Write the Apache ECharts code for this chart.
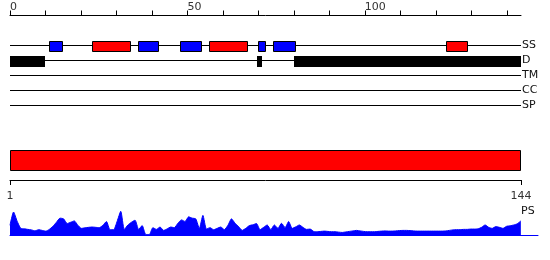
<!DOCTYPE html>
<html>
<head>
<meta charset="utf-8">
<script src="https://cdn.jsdelivr.net/npm/echarts@6/dist/echarts.min.js"></script>
<style>html,body{margin:0;padding:0;background:#fff;}#c{width:550px;height:260px;}</style>
</head>
<body>
<div id="c"></div>
<script>
// ---- data ----
const seqLength = 144;
const trackNames = ['SS', 'D', 'TM', 'CC', 'SP'];
const ssHelix = [[23, 34], [56, 67], [123, 129]];          // red boxes on SS
const ssStrand = [[11, 15], [36, 42], [48, 54], [70, 72], [74, 80.5]]; // blue boxes on SS
const disorder = [[0, 10], [69.5, 71], [80, 144]];          // black bars on D
const domains = [[1, 144]];                                 // red domain bar
const topTickValues = [0, 10, 20, 30, 40, 50, 60, 70, 80, 90, 100, 110, 120, 130, 140];
const topLabelValues = [0, 50, 100];
const bottomTickValues = [1, 144];
const psValues = [
  10, 23, 14, 7, 6.5, 6, 5.5, 4.5, 5.7, 5,
  4.3, 6, 9, 13, 17, 16.3, 11.7, 13, 14.3, 10,
  7, 7.5, 8, 8.3, 8, 7.7, 10, 13.7, 5.7, 5.7,
  14, 23.7, 6, 10.3, 13, 15, 6, 9.7, 1, 1,
  7.7, 6, 8.3, 5, 6.5, 8.3, 7.7, 12, 15.3, 13.7,
  18.3, 17, 16.3, 7, 19.7, 6.3, 7.7, 5.7, 7, 8.3,
  5.7, 10, 16.3, 12, 8.7, 5, 7, 9.7, 10.5, 11.7,
  5.7, 8, 10.3, 5.7, 10.3, 7, 12, 7.7, 13.7, 7,
  8.5, 10.3, 8, 6, 6.3, 4, 3.7, 4, 4.3, 4,
  3.7, 3.7, 3.3, 3, 3.5, 4, 4.5, 5, 4.5, 4,
  3.7, 3.7, 3.7, 4, 4.3, 4.5, 4.3, 4.3, 4.5, 4.8,
  5, 5, 4.8, 4.5, 4.3, 4.3, 4.3, 4.3, 4.3, 4.3,
  4.3, 4.3, 4.5, 5, 5.5, 5.7, 5.7, 6, 6, 6.3,
  6.3, 6.5, 8, 10.3, 8, 7, 8.7, 8, 7, 9,
  9.5, 10.3, 11.5, 14.3
];

// ---- build ----
const FONT = 'DejaVu Sans';
function rectSeries(name, items, track, fill, stroke, h, gridIdx, z) {
  return {
    type: 'custom', name: name,
    xAxisIndex: gridIdx, yAxisIndex: gridIdx, z: z || 5, silent: true,
    data: items.map(d => [d[0], d[1], track]),
    encode: { x: [0, 1], y: 2 },
    renderItem: function (params, api) {
      const a = api.coord([api.value(0), api.value(2)]);
      const b = api.coord([api.value(1), api.value(2)]);
      const x0 = Math.round(a[0]), x1 = Math.round(b[0]);
      const y0 = Math.round(a[1] - h / 2);
      const shape = stroke
        ? { x: x0 + 0.5, y: y0 + 0.5, width: x1 - x0 - 1, height: h }
        : { x: x0, y: y0, width: x1 - x0, height: h + 1 };
      return {
        type: 'rect', shape: shape,
        style: { fill: fill, stroke: stroke, lineWidth: stroke ? 1 : 0 }
      };
    }
  };
}

const trackLines = trackNames.map((n, k) => ({
  type: 'line', name: n + '-line', xAxisIndex: 0, yAxisIndex: 0, silent: true,
  symbol: 'none', animation: false, z: 2,
  lineStyle: { color: '#000', width: 1 },
  data: [[0, k], [seqLength, k]]
}));

const option = {
  animation: false,
  title: {
    text: 'PS', left: 521, top: 206, padding: 0,
    textStyle: { fontFamily: FONT, fontSize: 11, fontWeight: 'normal', color: '#111' }
  },
  grid: [
    { left: 10, right: 29, top: 15.5, height: 120, containLabel: false, outerBoundsMode: 'none' },
    { left: 10, right: 29, top: 150, height: 30, containLabel: false, outerBoundsMode: 'none' },
    { left: 10, right: 12, top: 211, bottom: 24.5, containLabel: false, outerBoundsMode: 'none' }
  ],
  xAxis: [
    {
      gridIndex: 0, type: 'value', position: 'top', min: 0, max: seqLength,
      axisLine: { show: true, onZero: false, lineStyle: { color: '#000', width: 1 } },
      axisTick: { show: true, length: 5, customValues: topTickValues, lineStyle: { color: '#000' } },
      axisLabel: { show: true, customValues: topLabelValues, align: 'left', margin: 3, fontFamily: FONT, fontSize: 11, color: '#333' },
      splitLine: { show: false }
    },
    {
      gridIndex: 1, type: 'value', position: 'bottom', min: 1, max: seqLength,
      axisLine: { show: true, onZero: false, lineStyle: { color: '#000', width: 1 } },
      axisTick: { show: true, length: 5, customValues: bottomTickValues, lineStyle: { color: '#000' } },
      axisLabel: { show: true, customValues: bottomTickValues, margin: 11, fontFamily: FONT, fontSize: 11, color: '#333' },
      splitLine: { show: false }
    },
    {
      gridIndex: 2, type: 'value', position: 'bottom', min: 1, max: 148.8,
      axisLine: { show: true, onZero: false, lineStyle: { color: '#0000ff', width: 1 } },
      axisTick: { show: false }, axisLabel: { show: false }, splitLine: { show: false }
    }
  ],
  yAxis: [
    {
      gridIndex: 0, type: 'value', min: -2, max: 6, inverse: true, position: 'right',
      axisLine: { show: false }, axisTick: { show: false }, splitLine: { show: false },
      axisLabel: {
        show: true, customValues: [0, 1, 2, 3, 4], margin: 1, align: 'left',
        formatter: v => trackNames[v] || '', fontFamily: FONT, fontSize: 11, color: '#111'
      }
    },
    {
      gridIndex: 1, type: 'value', min: 0, max: 3,
      axisLine: { show: false }, axisTick: { show: false }, splitLine: { show: false }, axisLabel: { show: false }
    },
    {
      gridIndex: 2, type: 'value', min: 0, max: 24,
      axisLine: { show: false }, axisTick: { show: false }, splitLine: { show: false }, axisLabel: { show: false }
    }
  ],
  series: [
    ...trackLines,
    rectSeries('helix', ssHelix, 0, '#ff0000', '#000', 10, 0, 5),
    rectSeries('strand', ssStrand, 0, '#0000ff', '#000', 10, 0, 5),
    rectSeries('disorder', disorder, 1, '#000', null, 10, 0, 5),
    rectSeries('domain', domains, 2, '#ff0000', '#000', 20, 1, 5),
    {
      type: 'line', name: 'PS', xAxisIndex: 2, yAxisIndex: 2, silent: true,
      symbol: 'none', smooth: 0.2,
      lineStyle: { color: '#0000ff', width: 1 },
      areaStyle: { color: '#0000ff', opacity: 1 },
      data: psValues.map((v, i) => [i + 1, v])
    }
  ]
};
echarts.init(document.getElementById('c'), null, { renderer: 'canvas' }).setOption(option);
</script>
</body>
</html>
